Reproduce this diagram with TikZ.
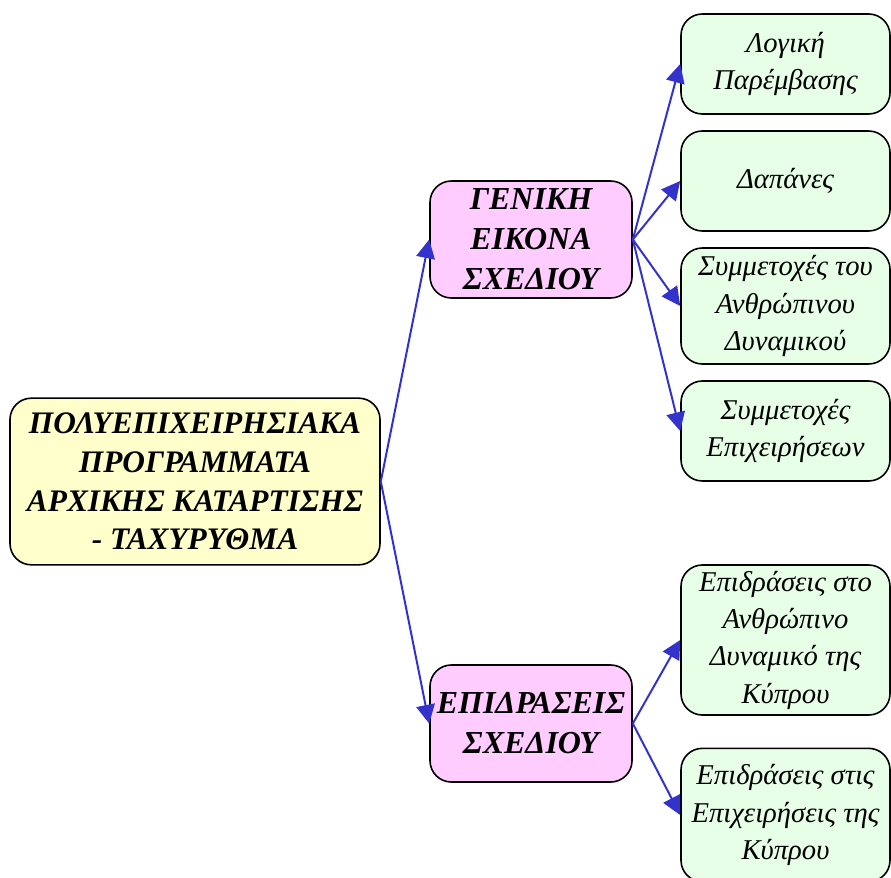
\documentclass[tikz,border=0pt]{standalone}
\usepackage{fontspec}
\setmainfont{Liberation Serif}
\usetikzlibrary{arrows.meta}
\definecolor{rootfill}{HTML}{FFFFCC}
\definecolor{midfill}{HTML}{FFCCFF}
\definecolor{leaffill}{HTML}{E6FFE6}
\definecolor{linkblue}{HTML}{3333CC}
\tikzset{
  box/.style={draw=black, line width=1.2pt, rounded corners=16pt, inner sep=0pt, align=center},
  rootbox/.style={box, fill=rootfill, minimum width=277.5pt, minimum height=125pt,
     font=\fontsize{23.5}{29}\selectfont\bfseries\itshape},
  midbox/.style={box, fill=midfill, minimum width=151.5pt, minimum height=87.75pt,
     font=\fontsize{24}{30}\selectfont\bfseries\itshape},
  leafbox/.style={box, fill=leaffill, minimum width=156.75pt,
     font=\fontsize{21.5}{28}\selectfont\itshape},
  link/.style={draw=linkblue, line width=1.5pt, -{Triangle[length=14pt,width=14pt]}, color=linkblue},
}
\begin{document}
\begin{tikzpicture}[x=0.75pt,y=-0.75pt]
\useasboundingbox (0,0) rectangle (891,877);
\begin{scope}
\clip (0,0) rectangle (891,877);
\node[rootbox] (root) at (195,481.5) {ΠΟΛΥΕΠΙΧΕΙΡΗΣΙΑΚΑ\\ΠΡΟΓΡΑΜΜΑΤΑ \\ΑΡΧΙΚΗΣ ΚΑΤΑΡΤΙΣΗΣ\\- ΤΑΧΥΡΥΘΜΑ};
\node[midbox] (gen) at (531,239.5) {ΓΕΝΙΚΗ\\ΕΙΚΟΝΑ\\ΣΧΕΔΙΟΥ};
\node[midbox] (epi) at (531,723.5) {ΕΠΙΔΡΑΣΕΙΣ\\ΣΧΕΔΙΟΥ};
\node[leafbox, minimum height=75pt] (g1) at (785.5,64) {Λογική\\Παρέμβασης};
\node[leafbox, minimum height=75pt] (g2) at (785.5,181) {Δαπάνες};
\node[leafbox, minimum height=87pt] (g3) at (785.5,306) {Συμμετοχές του\\Ανθρώπινου\\Δυναμικού};
\node[leafbox, minimum height=75pt] (g4) at (785.5,431) {Συμμετοχές\\Επιχειρήσεων};
\node[leafbox, minimum height=112.5pt] (g5) at (785.5,640) {Επιδράσεις στο\\Ανθρώπινο\\Δυναμικό της\\Κύπρου};
\node[leafbox, minimum height=100pt] (g6) at (785.5,815) {Επιδράσεις στις\\Επιχειρήσεις της\\Κύπρου};
\draw[link] (root.east) -- (gen.west);
\draw[link] (root.east) -- (epi.west);
\draw[link] (gen.east) -- (g1.west);
\draw[link] (gen.east) -- (g2.west);
\draw[link] (gen.east) -- (g3.west);
\draw[link] (gen.east) -- (g4.west);
\draw[link] (epi.east) -- (g5.west);
\draw[link] (epi.east) -- (g6.west);
\end{scope}
\end{tikzpicture}
\end{document}
